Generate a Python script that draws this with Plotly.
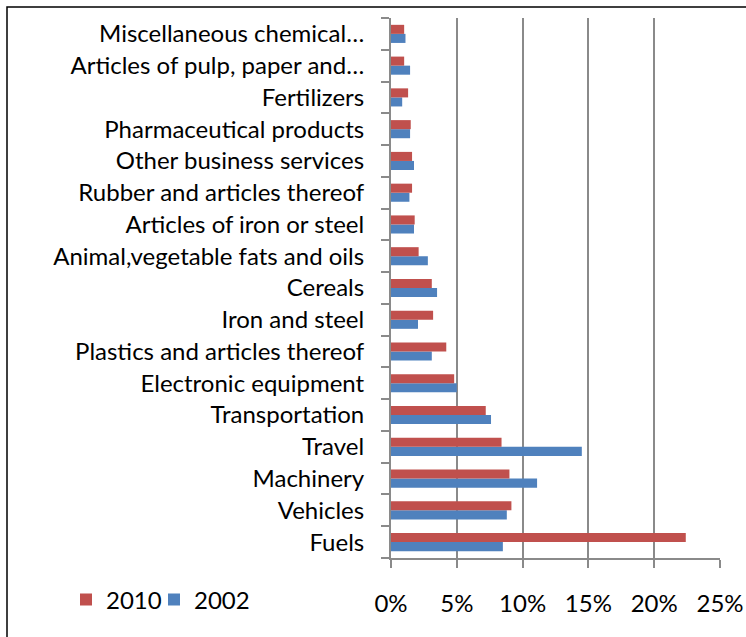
import plotly.graph_objects as go

categories = ["Fuels", "Vehicles", "Machinery", "Travel", "Transportation",
              "Electronic equipment", "Plastics and articles thereof", "Iron and steel",
              "Cereals", "Animal,vegetable fats and oils", "Articles of iron or steel",
              "Rubber and articles thereof", "Other business services",
              "Pharmaceutical products", "Fertilizers", "Articles of pulp, paper and…",
              "Miscellaneous chemical…"]
v2010 = [22.4, 9.15, 9.0, 8.4, 7.2, 4.8, 4.2, 3.2, 3.1, 2.1, 1.8, 1.6, 1.6, 1.5, 1.3, 1.0, 1.0]
v2002 = [8.5, 8.8, 11.1, 14.5, 7.6, 5.0, 3.1, 2.05, 3.5, 2.8, 1.75, 1.4, 1.75, 1.45, 0.85, 1.45, 1.1]
x_ticks = [0, 5, 10, 15, 20, 25]
x_labels = ["0%", "5%", "10%", "15%", "20%", "25%"]

FONT = "Lato"
FS = 24
L, R, T, B = 391, 26, 18, 79
W, H = 746, 637
pw, ph = W - L - R, H - T - B

fig = go.Figure()
fig.add_trace(go.Bar(y=categories, x=v2002, orientation="h", name="2002",
                     marker=dict(color="#4F81BD", line=dict(width=0)),
                     legend="legend2"))
fig.add_trace(go.Bar(y=categories, x=v2010, orientation="h", name="2010",
                     marker=dict(color="#C0504D", line=dict(width=0)),
                     legend="legend"))

leg_y = (H - B - 600) / ph
fig.update_layout(
    template="none",
    width=W, height=H,
    margin=dict(l=L, r=R, t=T, b=B, pad=0, autoexpand=False),
    paper_bgcolor="white", plot_bgcolor="white",
    barmode="group", bargap=0.43, bargroupgap=0,
    font=dict(family=FONT, size=FS, color="black"),
    showlegend=True,
    legend=dict(x=(66 - L) / pw, xanchor="left", y=leg_y, yanchor="middle",
                font=dict(size=FS, family=FONT), bgcolor="rgba(0,0,0,0)"),
    legend2=dict(x=(154 - L) / pw, xanchor="left", y=leg_y, yanchor="middle",
                 font=dict(size=FS, family=FONT), bgcolor="rgba(0,0,0,0)"),
    xaxis=dict(range=[0, 25], tickvals=x_ticks, ticktext=x_labels,
               showgrid=True, gridcolor="#8A8A8A", gridwidth=2,
               showline=True, linecolor="#8A8A8A", linewidth=2,
               ticks="outside", ticklen=8, tickcolor="#8A8A8A", tickwidth=2,
               ticklabelstandoff=15, zeroline=False, fixedrange=True,
               automargin=False),
    yaxis=dict(categoryorder="array", categoryarray=categories,
               showline=True, linecolor="#8A8A8A", linewidth=2,
               ticks="outside", ticklen=8, tickcolor="#8A8A8A", tickwidth=2,
               tickson="boundaries", ticklabelstandoff=20,
               showgrid=False, fixedrange=True, automargin=False),
    shapes=[dict(type="path", xref="paper", yref="paper",
                 path="M %f %f L %f %f L %f %f" % (
                     (7 - L) / pw, (H - B - 640) / ph,
                     (7 - L) / pw, (H - B - 7) / ph,
                     (750 - L) / pw, (H - B - 7) / ph),
                 line=dict(color="black", width=1.5))],
)
fig.write_html("out.html")
